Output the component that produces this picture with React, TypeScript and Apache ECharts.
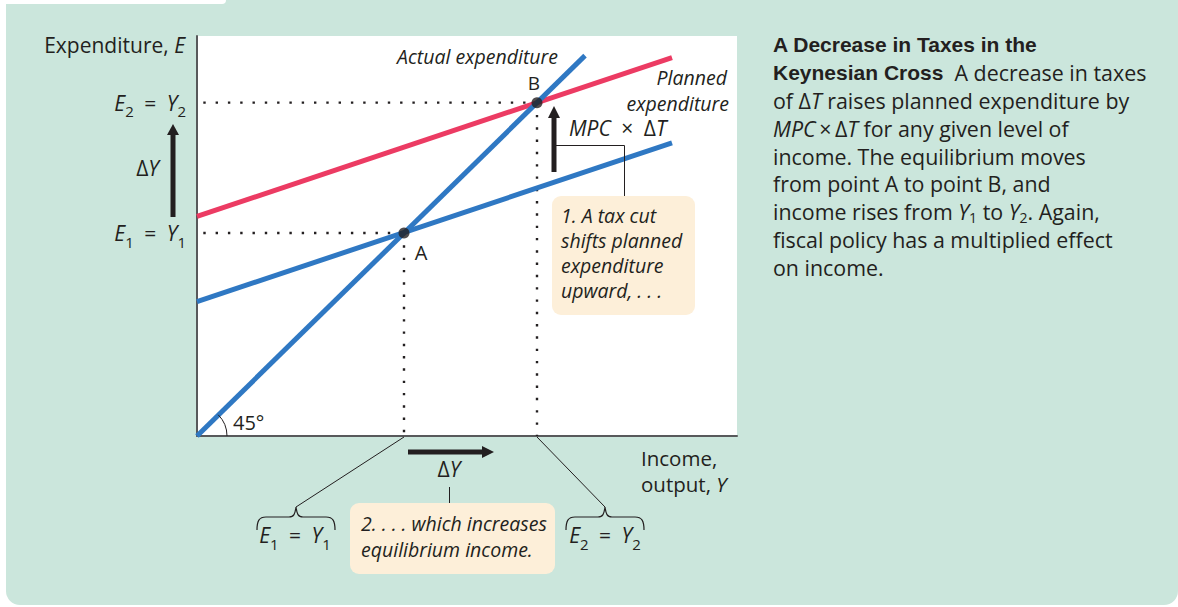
import React, { useEffect, useRef } from "react";
import * as echarts from "echarts";

const INK = "#231f20";
const BLUE = "#2f78c3";
const RED = "#ec3b63";
const GREEN_BG = "#cbe6dc";
const PEACH = "#fdefd9";
const AXIS = "#58595b";
const FF = '"Open Sans", "DejaVu Sans", sans-serif';
const FF_TITLE = '"Liberation Sans", Arial, sans-serif';

// Income (x) and expenditure (y), chart units
const X_RANGE = [0, 540];
const Y_RANGE = [0, 408];
const Y1 = 207; // equilibrium A
const Y2 = 340; // equilibrium B
const actualExpenditure: number[][] = [[0, 0], [388, 388]];
const plannedBefore: number[][] = [[0, 137], [475, 299]];
const plannedAfter: number[][] = [[0, 224], [475, 386]];
const equilibria: number[][] = [[Y1, Y1], [Y2, Y2]];

const EQ = "\u2002=\u2002";
const paragraph: string[] = [
  "{b|A Decrease in Taxes in the}",
  "{b|Keynesian Cross}{n|  A decrease in taxes}",
  "{n|of Δ}{i|T}{n| raises planned expenditure by}",
  "{i|MPC}{n|\u2009×\u2009Δ}{i|T}{n| for any given level of}",
  "{n|income. The equilibrium moves}",
  "{n|from point A to point B, and}",
  "{n|income rises from }{i|Y}{s|1}{n| to }{i|Y}{s|2}{n|. Again,}",
  "{n|fiscal policy has a multiplied effect}",
  "{n|on income.}",
];

echarts.graphic.registerShape(
  "brace",
  (echarts.graphic as any).extendPath(
    "M0,23 C0,14 2,10 9,10 L32,10 C37,10 38,7 39,0 C40,7 41,10 46,10 L69,10 C76,10 78,14 78,23",
    {}
  )
);

function richSet(size: number, lh: number, subSize: number, subLift: number) {
  const base = { fontFamily: FF, fontSize: size, fontStyle: "normal", fontWeight: "normal", fill: INK, lineHeight: lh };
  return {
    n: { ...base },
    i: { ...base, fontStyle: "italic" },
    s: {
      fontFamily: FF, fontSize: subSize, fontStyle: "normal", fontWeight: "normal", fill: INK,
      verticalAlign: "bottom", padding: [0, 0, subLift, 0],
    },
    b: { fontFamily: FF_TITLE, fontSize: 21, fontStyle: "normal", fontWeight: "bold", fill: INK, lineHeight: lh },
  };
}

function txt(x: number, y: number, text: string, size: number, lh: number, align = "left", vAlign = "middle", subSize = 15, subLift = 0) {
  return {
    type: "text",
    x,
    y,
    z: 20,
    silent: true,
    style: {
      text,
      rich: richSet(size, lh, subSize, subLift),
      fontFamily: FF,
      fontSize: size,
      lineHeight: lh,
      fill: INK,
      align,
      verticalAlign: vAlign,
    },
  };
}

function seg(x1: number, y1: number, x2: number, y2: number, w: number) {
  return { type: "line", z: 20, silent: true, shape: { x1, y1, x2, y2 }, style: { stroke: INK, lineWidth: w } };
}

function poly(points: number[][]) {
  return { type: "polygon", z: 20, silent: true, shape: { points }, style: { fill: INK } };
}

export default function App() {
  const ref = useRef<HTMLDivElement>(null);

  useEffect(() => {
    if (!ref.current) return;
    const chart = echarts.init(ref.current, undefined, { renderer: "svg" });
    const dotted = { color: INK, width: 2.4, type: [2.4, 9.9], dashOffset: 6.3 };
    const lineBase = { type: "line", showSymbol: false, silent: true, animation: false };
    chart.setOption({
      animation: false,
      backgroundColor: "transparent",
      grid: { left: 197, top: 36, width: 540, height: 400, show: true, backgroundColor: "#ffffff", borderWidth: 0 },
      xAxis: {
        type: "value", min: X_RANGE[0], max: X_RANGE[1],
        axisLine: { show: true, onZero: false, lineStyle: { color: AXIS, width: 2 } },
        axisTick: { show: false }, axisLabel: { show: false }, splitLine: { show: false },
      },
      yAxis: {
        type: "value", min: Y_RANGE[0], max: Y_RANGE[1],
        axisLine: { show: true, onZero: false, lineStyle: { color: AXIS, width: 2 } },
        axisTick: { show: false }, axisLabel: { show: false }, splitLine: { show: false },
      },
      series: [
        { ...lineBase, z: 1, data: [[0, Y1], [Y1, Y1]], lineStyle: dotted },
        { ...lineBase, z: 1, data: [[0, Y2], [Y2, Y2]], lineStyle: dotted },
        { ...lineBase, z: 1, data: [[Y1, Y1], [Y1, 0]], lineStyle: { ...dotted, dashOffset: 0 } },
        { ...lineBase, z: 1, data: [[Y2, Y2], [Y2, 0]], lineStyle: { ...dotted, dashOffset: 0 } },
        { ...lineBase, z: 2, data: plannedBefore, lineStyle: { color: BLUE, width: 5 } },
        { ...lineBase, z: 3, data: plannedAfter, lineStyle: { color: RED, width: 5 } },
        { ...lineBase, z: 4, data: actualExpenditure, lineStyle: { color: BLUE, width: 5 } },
        { type: "scatter", z: 5, silent: true, data: equilibria, symbolSize: 11, itemStyle: { color: INK } },
      ],
    });

    const px = (p: number[]) => chart.convertToPixel({ gridIndex: 0 }, p) as number[];
    const o = px([0, 0]);
    const pA = px([Y1, Y1]);
    const pB = px([Y2, Y2]);
    const axA = px([Y1, 0]);
    const axB = px([Y2, 0]);

    const graphic: any[] = [
      // 45 degree arc
      { type: "arc", z: 20, silent: true, shape: { cx: o[0], cy: o[1], r: 30, startAngle: -Math.PI / 4, endAngle: 0 }, style: { stroke: INK, lineWidth: 1, fill: "none" } },
      txt(o[0] + 36, o[1] - 14, "{n|45°}", 20, 22),
      // left axis labels
      txt(185, 45, "{n|Expenditure, }{i|E}", 21, 24, "right"),
      txt(186, pB[1], `{i|E}{s|2}{n|${EQ}}{i|Y}{s|2}`, 21, 32, "right"),
      txt(186, pA[1], `{i|E}{s|1}{n|${EQ}}{i|Y}{s|1}`, 21, 32, "right"),
      txt(159, 168, "{n|Δ}{i|Y}", 21, 24, "right"),
      // vertical delta Y arrow
      seg(173, 217, 173, 133, 5),
      poly([[167, 135], [179, 135], [173, 124]]),
      // curve labels
      txt(397, 56, "{i|Actual expenditure}", 19.5, 20),
      txt(727, 77, "{i|Planned}", 19.5, 20, "right"),
      txt(729, 103, "{i|expenditure}", 19.5, 20, "right"),
      txt(pB[0] - 3, pB[1] - 20, "{n|B}", 19, 18, "center"),
      txt(pA[0] + 17, pA[1] + 19, "{n|A}", 20, 20, "center"),
      // MPC x dT arrow
      seg(554, 172, 554, 116, 5),
      poly([[548, 118], [560, 118], [554, 106]]),
      txt(569, 128, "{i|MPC}{n|\u2002×\u2002Δ}{i|T}", 21, 24),
      seg(556, 145.5, 624.5, 145.5, 1),
      seg(624.5, 145.5, 624.5, 196, 1),
      // box 1
      { type: "rect", z: 15, silent: true, shape: { x: 552, y: 196, width: 143, height: 119, r: 9 }, style: { fill: PEACH } },
      txt(561, 202.5, "{i|1. A tax cut}\n{i|shifts planned}\n{i|expenditure}\n{i|upward, . . .}", 19.5, 25, "left", "top"),
      // horizontal delta Y arrow
      seg(axA[0] + 4, 452, axA[0] + 80, 452, 5),
      poly([[axA[0] + 78, 446], [axA[0] + 78, 458], [axA[0] + 90, 452]]),
      txt(449, 469, "{n|Δ}{i|Y}", 21, 24, "center"),
      seg(449.5, 487, 449.5, 503, 1),
      // box 2
      { type: "rect", z: 15, silent: true, shape: { x: 350, y: 503, width: 205, height: 71, r: 9 }, style: { fill: PEACH } },
      txt(361, 510, "{i|2. . . . which increases}\n{i|equilibrium income.}", 19.5, 26, "left", "top"),
      // x axis title
      txt(641, 458, "{n|Income,}", 20.5, 20),
      txt(641, 484, "{n|output, }{i|Y}", 20.5, 20),
      // braces
      seg(axA[0], axA[1] + 1, 296, 507, 1),
      seg(axB[0], axB[1] + 1, 605, 507, 1),
      { type: "brace", z: 20, silent: true, x: 257, y: 507, style: { stroke: INK, fill: "none", lineWidth: 1.2 } },
      { type: "brace", z: 20, silent: true, x: 566, y: 507, style: { stroke: INK, fill: "none", lineWidth: 1.2 } },
      txt(295, 535, `{i|E}{s|1}{n|${EQ}}{i|Y}{s|1}`, 21, 32, "center"),
      txt(605, 535, `{i|E}{s|2}{n|${EQ}}{i|Y}{s|2}`, 21, 32, "center"),
      // caption paragraph
      txt(773, 31, paragraph.join("\n"), 21.4, 27.8, "left", "top", 14, 1.5),
    ];
    chart.setOption({ graphic });

    return () => chart.dispose();
  }, []);

  return (
    <div style={{ position: "fixed", left: 0, top: 0, width: 1178, height: 607, background: "#ffffff", overflow: "hidden" }}>
      <div style={{ position: "absolute", left: 6, top: 0, width: 1172, height: 605, background: GREEN_BG, borderRadius: "0 0 14px 14px" }} />
      <div style={{ position: "absolute", left: 0, top: 0, width: 226, height: 3.5, background: "#ffffff", borderBottomRightRadius: 4 }} />
      <div ref={ref} style={{ position: "absolute", left: 0, top: 0, width: 1178, height: 607 }} />
    </div>
  );
}
